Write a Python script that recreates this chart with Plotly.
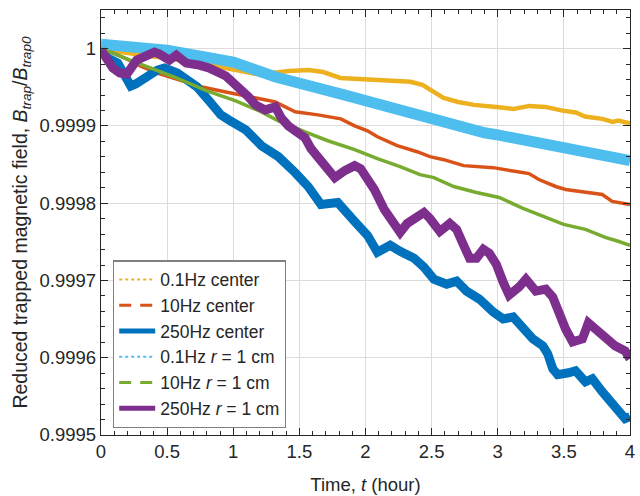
import plotly.graph_objects as go

# ---- data ----
t_01c = [0.0, 0.10, 0.30, 0.50, 0.70, 0.90, 1.10, 1.25, 1.30, 1.42, 1.57, 1.68, 1.81, 2.04, 2.16, 2.34,
         2.43, 2.49, 2.59, 2.70, 2.82, 2.99, 3.12, 3.24, 3.36, 3.49, 3.59, 3.66, 3.79, 3.87, 3.91, 4.0]
b_01c = [1.0, 0.9999968, 0.9999916, 0.9999878, 0.9999826, 0.9999762, 0.9999697, 0.9999646, 0.9999684,
         0.999971, 0.9999723, 0.9999697, 0.999962, 0.9999594, 0.9999594, 0.9999572, 0.999953, 0.9999465,
         0.9999362, 0.999931, 0.9999272, 0.9999246, 0.999922, 0.9999259, 0.9999246, 0.9999198, 0.9999173,
         0.9999121, 0.9999091, 0.9999052, 0.999907, 0.9999034]

t_10c = [0.0, 0.075, 0.18, 0.30, 0.427, 0.592, 0.764, 0.944, 1.139, 1.318, 1.468, 1.640, 1.813, 1.918,
         2.015, 2.090, 2.240, 2.390, 2.487, 2.592, 2.742, 2.839, 2.966, 3.139, 3.236, 3.311, 3.438, 3.513,
         3.640, 3.790, 3.865, 4.0]
b_10c = [1.0, 0.9999955, 0.9999878, 0.9999774, 0.9999684, 0.9999594, 0.9999504, 0.9999439, 0.9999375,
         0.9999311, 0.9999182, 0.9999143, 0.9999091, 0.9999001, 0.9998937, 0.9998859, 0.9998744, 0.9998666,
         0.9998602, 0.9998563, 0.9998486, 0.9998473, 0.999846, 0.9998409, 0.9998383, 0.9998306, 0.9998216,
         0.9998177, 0.9998151, 0.9998113, 0.9998023, 0.9997984]

t_250c = [0.0, 0.052, 0.127, 0.180, 0.225, 0.262, 0.352, 0.427, 0.479, 0.577, 0.652, 0.727, 0.824, 0.906,
          0.966, 1.094, 1.213, 1.341, 1.468, 1.566, 1.663, 1.790, 1.918, 2.015, 2.090, 2.187, 2.262, 2.367,
          2.442, 2.517, 2.614, 2.689, 2.764, 2.861, 2.966, 3.041, 3.116, 3.191, 3.266, 3.341, 3.378, 3.416,
          3.453, 3.536, 3.588, 3.663, 3.715, 3.790, 3.888, 3.963, 4.0]
b_250c = [0.9999981, 0.9999878, 0.9999813, 0.9999659, 0.9999517, 0.9999543, 0.9999646, 0.9999723, 0.9999749,
          0.9999684, 0.9999594, 0.9999504, 0.9999311, 0.9999143, 0.9999078, 0.999895, 0.9998744, 0.9998602,
          0.9998396, 0.9998216, 0.9997984, 0.9998009, 0.9997764, 0.9997584, 0.9997365, 0.9997455, 0.9997377,
          0.9997287, 0.9997171, 0.9997017, 0.9996952, 0.9996991, 0.9996862, 0.9996759, 0.9996591, 0.9996501,
          0.9996527, 0.9996385, 0.9996243, 0.9996153, 0.999605, 0.9995857, 0.999578, 0.9995805, 0.9995831,
          0.9995689, 0.9995728, 0.999556, 0.999538, 0.9995212, 0.9995238]

t_01r = [0.0, 0.50, 1.00, 1.32, 1.81, 2.16, 2.35, 2.46, 2.90, 2.99, 3.49, 4.0]
b_01r = [1.0000058, 0.9999981, 0.9999826, 0.9999633, 0.9999414, 0.9999246, 0.9999182, 0.999913, 0.9998911,
         0.9998886, 0.9998718, 0.999855]

t_10r = [0.0, 0.075, 0.18, 0.352, 0.554, 0.801, 1.019, 1.213, 1.341, 1.543, 1.715, 1.918, 2.090, 2.262,
         2.412, 2.517, 2.667, 2.839, 3.011, 3.191, 3.363, 3.498, 3.663, 3.813, 3.910, 4.0]
b_10r = [1.0, 0.9999955, 0.9999878, 0.9999762, 0.9999633, 0.9999452, 0.9999323, 0.9999182, 0.9999066,
         0.9998924, 0.9998808, 0.9998692, 0.9998576, 0.9998473, 0.999837, 0.9998331, 0.9998216, 0.9998138,
         0.9998074, 0.9997932, 0.9997816, 0.9997726, 0.9997661, 0.9997558, 0.9997507, 0.9997455]

t_250r = [0.0, 0.037, 0.090, 0.142, 0.195, 0.270, 0.345, 0.404, 0.442, 0.517, 0.569, 0.644, 0.742, 0.816,
          0.944, 1.004, 1.064, 1.116, 1.169, 1.243, 1.318, 1.363, 1.416, 1.468, 1.543, 1.588, 1.663, 1.715,
          1.768, 1.843, 1.918, 1.963, 2.015, 2.067, 2.142, 2.217, 2.262, 2.315, 2.442, 2.487, 2.562, 2.637,
          2.689, 2.742, 2.787, 2.839, 2.891, 2.936, 2.989, 3.041, 3.086, 3.161, 3.213, 3.288, 3.363, 3.416,
          3.461, 3.513, 3.566, 3.640, 3.685, 3.738, 3.813, 3.888, 3.963, 4.0]
b_250r = [0.9999981, 0.9999878, 0.9999749, 0.9999684, 0.9999671, 0.9999852, 0.9999916, 0.9999955, 0.9999929,
          0.9999852, 0.9999916, 0.9999813, 0.9999787, 0.9999749, 0.9999646, 0.9999555, 0.9999491, 0.9999375,
          0.9999272, 0.9999207, 0.9999246, 0.9999104, 0.9999001, 0.9998937, 0.9998847, 0.9998705, 0.9998563,
          0.9998434, 0.9998331, 0.9998421, 0.9998486, 0.9998447, 0.9998318, 0.9998176, 0.9997919, 0.9997713,
          0.9997622, 0.9997738, 0.999788, 0.9997803, 0.9997635, 0.9997738, 0.9997661, 0.9997455, 0.9997287,
          0.9997287, 0.9997403, 0.9997352, 0.999721, 0.9996978, 0.999681, 0.9996914, 0.9997017, 0.9996862,
          0.9996888, 0.9996785, 0.9996553, 0.9996372, 0.9996205, 0.9996243, 0.999645, 0.9996372, 0.9996243,
          0.9996153, 0.9996089, 0.9995986]

series_names = ["0.1Hz center", "10Hz center", "250Hz center",
                "0.1Hz <i>r</i> = 1 cm", "10Hz <i>r</i> = 1 cm", "250Hz <i>r</i> = 1 cm"]
xtick_vals = [0, 0.5, 1, 1.5, 2, 2.5, 3, 3.5, 4]
xtick_text = ["0", "0.5", "1", "1.5", "2", "2.5", "3", "3.5", "4"]
ytick_vals = [0.9995, 0.9996, 0.9997, 0.9998, 0.9999, 1.0]
ytick_text = ["0.9995", "0.9996", "0.9997", "0.9998", "0.9999", "1"]

colors = ["#EDB120", "#D95319", "#0072BD", "#4DBEEE", "#77AC30", "#7E2F8E"]
plot_widths = [4.5, 3.5, 9, 11, 3.5, 9]
legend_widths = [2, 3, 5, 2, 3, 5]
legend_dash = ["dot", "12px,9px", "solid", "dot", "12px,9px", "solid"]

xs = [t_01c, t_10c, t_250c, t_01r, t_10r, t_250r]
ys = [b_01c, b_10c, b_250c, b_01r, b_10r, b_250r]

fig = go.Figure()
for i in range(6):
    fig.add_trace(go.Scatter(x=xs[i], y=ys[i], mode="lines", showlegend=False, hoverinfo="skip",
                             line=dict(color=colors[i], width=plot_widths[i])))
for i in range(6):
    fig.add_trace(go.Scatter(x=[None], y=[None], mode="lines", name=series_names[i],
                             line=dict(color=colors[i], width=legend_widths[i], dash=legend_dash[i])))

family = "Liberation Sans, Arial, sans-serif"
font = dict(family=family, size=18.5, color="#262626")
title_font = dict(family=family, size=19.5, color="#262626")
legend_font = dict(family=family, size=17.5, color="#262626")
axis_common = dict(showline=True, linecolor="#262626", linewidth=1.3, mirror="ticks",
                   ticks="inside", ticklen=7, tickwidth=1.3, tickcolor="#262626",
                   showgrid=True, gridcolor="#DCDCDC", gridwidth=1, zeroline=False,
                   tickfont=font, ticklabeloverflow="allow")

fig.update_layout(
    width=640, height=496,
    margin=dict(l=101, r=5, t=10, b=60),
    paper_bgcolor="white", plot_bgcolor="white",
    font=font,
    xaxis=dict(range=[0, 4], tickmode="array", tickvals=xtick_vals, ticktext=xtick_text,
               title=dict(text="Time, <i>t</i> (hour)", font=font, standoff=16),
               minor=dict(ticks="inside", ticklen=4, tickwidth=1.3, tickcolor="#262626",
                          tickmode="linear", tick0=0, dtick=0.1, showgrid=False),
               **axis_common),
    yaxis=dict(range=[0.9995, 1.00005], tickmode="array", tickvals=ytick_vals, ticktext=ytick_text,
               title=dict(text="Reduced trapped magnetic field, <i>B</i><sub><i>trap</i></sub>/<i>B</i><sub><i>trap0</i></sub>",
                          font=title_font, standoff=6),
               minor=dict(ticks="inside", ticklen=4, tickwidth=1.3, tickcolor="#262626",
                          tickmode="linear", tick0=0.9995, dtick=0.00002, showgrid=False),
               **axis_common),
    legend=dict(x=0.0225, y=0.016, xanchor="left", yanchor="bottom",
                bgcolor="white", bordercolor="#808080", borderwidth=1.3,
                font=legend_font, tracegroupgap=0, itemwidth=36),
)

fig.write_html("out.html", config={"displayModeBar": False},
               post_script="document.body.style.margin='0';document.body.style.padding='0';")
